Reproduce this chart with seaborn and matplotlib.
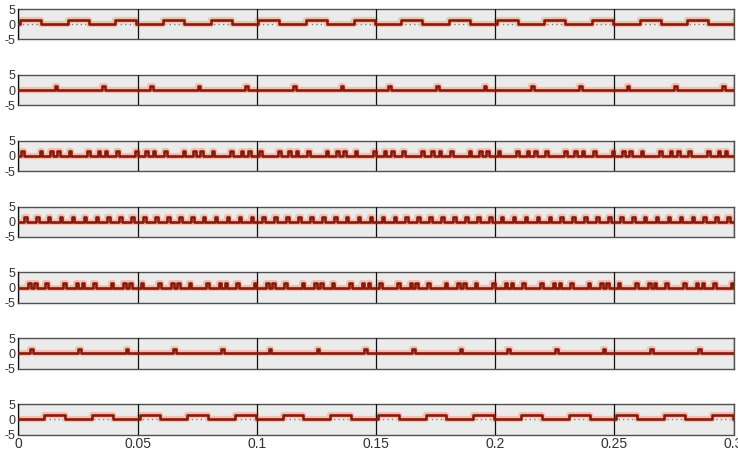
import matplotlib
matplotlib.use("Agg")
import matplotlib.pyplot as plt
import numpy as np
import pandas as pd
import seaborn as sns

sns.set_style("white")
plt.rcParams['font.family'] = ['Liberation Sans', 'DejaVu Sans']
plt.rcParams['axes.unicode_minus'] = False

# ---- data ----
period = 0.02          # repeat period of every pulse pattern (s)
n_periods = 16
t_end = 0.3
# pulse start offsets inside one period, per panel (s)
offsets_1 = [0.0007]
offsets_2 = [0.0152]
offsets_3 = [0.0011, 0.0089, 0.0133, 0.0163]
offsets_4 = [0.0024, 0.0074, 0.0124, 0.0174]
offsets_5 = [0.0041, 0.0066, 0.0114, 0.0188]
offsets_6 = [0.0051]
offsets_7 = [0.0109]
# pulse durations per panel (s)
widths = [0.0088, 0.0011, 0.0011, 0.0011, 0.0011, 0.0011, 0.0087]
pulse_height = 1.5
dotted_panels = [0, 6]
x_ticks = [0, 0.05, 0.1, 0.15, 0.2, 0.25, 0.3]
x_tick_labels = ["0", "0.05", "0.1", "0.15", "0.2", "0.25", "0.3"]
y_ticks = [-5, 0, 5]
y_tick_labels = ["-5", "0", "5"]

all_offsets = [offsets_1, offsets_2, offsets_3, offsets_4, offsets_5, offsets_6, offsets_7]


def pulse_frame(offsets, width):
    starts = sorted(k * period + o for k in range(n_periods) for o in offsets)
    xs, ys = [0.0], [0.0]
    for s in starts:
        if s > t_end + 0.01:
            break
        xs += [s, s, s + width, s + width]
        ys += [0.0, pulse_height, pulse_height, 0.0]
    xs.append(t_end + 0.01)
    ys.append(0.0)
    return pd.DataFrame({"t": xs, "v": ys})


W, H = 738, 455
fig = plt.figure(figsize=(W / 100, H / 100), dpi=100)
gs = fig.add_gridspec(7, 1, left=18.3 / W, right=733.5 / W,
                      top=1 - 9.0 / H, bottom=1 - 434.5 / H, hspace=1.16)

for i, (offs, w) in enumerate(zip(all_offsets, widths)):
    ax = fig.add_subplot(gs[i])
    ax.set_facecolor("#ebebeb")
    df = pulse_frame(offs, w)
    if i in dotted_panels:
        ax.axhline(0, color="#7a7a7a", lw=1.0, ls=(0, (1, 2.2)), zorder=1)
    sns.lineplot(data=df, x="t", y="v", estimator=None, sort=False,
                 color="#f5bfae", lw=4.5, ax=ax, zorder=2,
                 solid_joinstyle="round", solid_capstyle="round")
    sns.lineplot(data=df, x="t", y="v", estimator=None, sort=False,
                 color="#861a0e", lw=1.9, ax=ax, zorder=3,
                 solid_joinstyle="round", solid_capstyle="round")
    ax.set_xlim(0, t_end)
    ax.set_ylim(-5, 5)
    ax.set_xticks(x_ticks)
    ax.set_yticks(y_ticks)
    ax.set_yticklabels(y_tick_labels, fontsize=9, color="#303030")
    if i == 6:
        ax.set_xticklabels(x_tick_labels, fontsize=10, color="#303030")
    else:
        ax.set_xticklabels([])
    ax.tick_params(length=0, pad=2)
    ax.grid(axis="x", color="#111111", lw=0.9)
    ax.grid(axis="y", visible=False)
    ax.set_axisbelow(False)
    for sp in ax.spines.values():
        sp.set_color("#505050")
        sp.set_linewidth(1.0)
    ax.set_xlabel("")
    ax.set_ylabel("")

fig.savefig("out.png", dpi=100)
